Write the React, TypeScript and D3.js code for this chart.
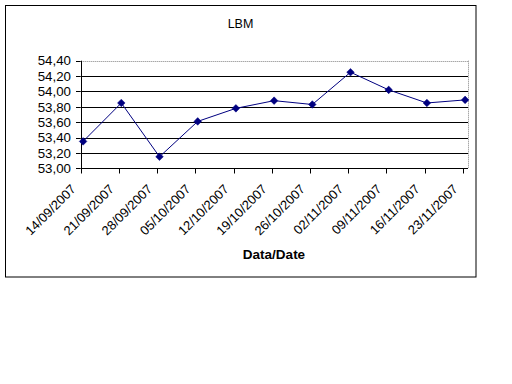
import React from "react";
import * as d3 from "d3";

const title = "LBM";
const xAxisTitle = "Data/Date";
const dates = [
  "14/09/2007", "21/09/2007", "28/09/2007", "05/10/2007", "12/10/2007", "19/10/2007",
  "26/10/2007", "02/11/2007", "09/11/2007", "16/11/2007", "23/11/2007",
];
const values = [53.35, 53.85, 53.15, 53.61, 53.78, 53.88, 53.83, 54.25, 54.02, 53.85, 53.89];
const yTicks = [53.0, 53.2, 53.4, 53.6, 53.8, 54.0, 54.2, 54.4];

const FONT = "'Liberation Sans', Arial, sans-serif";

export default function App() {
  const left = 80.7, right = 468, top = 60.7, bottom = 168.3;
  const x = d3.scalePoint<string>().domain(dates).range([80.7, 462.7]);
  const y = d3.scaleLinear().domain([53, 54.4]).range([bottom, top]);
  const fmt = (v: number) => d3.format(".2f")(v).replace(".", ",");
  const off = 2.4;
  const line = d3
    .line<number>()
    .x((_, i) => (x(dates[i]) as number) + off)
    .y((d) => y(d));

  return (
    <svg
      width={512}
      height={384}
      style={{ position: "absolute", left: 0, top: 0, background: "#fff" }}
    >
      <rect x={0} y={0} width={512} height={384} fill="#fff" />
      <rect x={5.5} y={5.5} width={470.5} height={271.5} fill="none" stroke="#000" strokeWidth={1} />
      <text x={240.5} y={27.7} textAnchor="middle" fontFamily={FONT} fontSize={12.5} fill="#000">
        {title}
      </text>
      {/* plot area border (dotted gray) */}
      <line x1={left} x2={right} y1={Math.round(top) + 0.5} y2={Math.round(top) + 0.5} stroke="#808080" strokeDasharray="1,1" />
      <line x1={right + 0.5} x2={right + 0.5} y1={top} y2={bottom} stroke="#808080" strokeDasharray="1,1" />
      {/* gridlines */}
      {yTicks.slice(1, -1).map((t) => (
        <line key={t} x1={left} x2={right} y1={Math.round(y(t)) + 0.5} y2={Math.round(y(t)) + 0.5} stroke="#000" strokeWidth={1} />
      ))}
      {/* y axis */}
      <line x1={Math.round(left) + 0.5} x2={Math.round(left) + 0.5} y1={top} y2={bottom + 0.5} stroke="#000" />
      {yTicks.map((t) => (
        <g key={"yt" + t}>
          <line x1={76} x2={left} y1={Math.round(y(t)) + 0.5} y2={Math.round(y(t)) + 0.5} stroke="#000" />
          <text x={71} y={y(t)} dy="0.36em" textAnchor="end" fontFamily={FONT} fontSize={13.3} fill="#000">
            {fmt(t)}
          </text>
        </g>
      ))}
      {/* x axis */}
      <line x1={left} x2={right} y1={Math.round(bottom) + 0.5} y2={Math.round(bottom) + 0.5} stroke="#000" />
      {dates.map((d) => {
        const tx = Math.round(x(d) as number) + 0.5;
        return (
          <g key={d}>
            <line x1={tx} x2={tx} y1={bottom} y2={173.5} stroke="#000" />
            <text
              transform={`translate(${(x(d) as number) - 4},${190}) rotate(-45)`}
              textAnchor="end"
              fontFamily={FONT}
              fontSize={13}
              fill="#000"
            >
              {d}
            </text>
          </g>
        );
      })}
      <text x={274} y={259.3} textAnchor="middle" fontFamily={FONT} fontSize={13.5} fontWeight="bold" fill="#000">
        {xAxisTitle}
      </text>
      {/* series */}
      <path d={line(values) as string} fill="none" stroke="#000080" strokeWidth={1} />
      {values.map((v, i) => {
        const cx = (x(dates[i]) as number) + off;
        const cy = y(v);
        const s = 3.8;
        return (
          <path
            key={i}
            d={`M${cx},${cy - s}L${cx + s},${cy}L${cx},${cy + s}L${cx - s},${cy}Z`}
            fill="#000080"
            stroke="#000080"
            strokeWidth={0.5}
          />
        );
      })}
    </svg>
  );
}
